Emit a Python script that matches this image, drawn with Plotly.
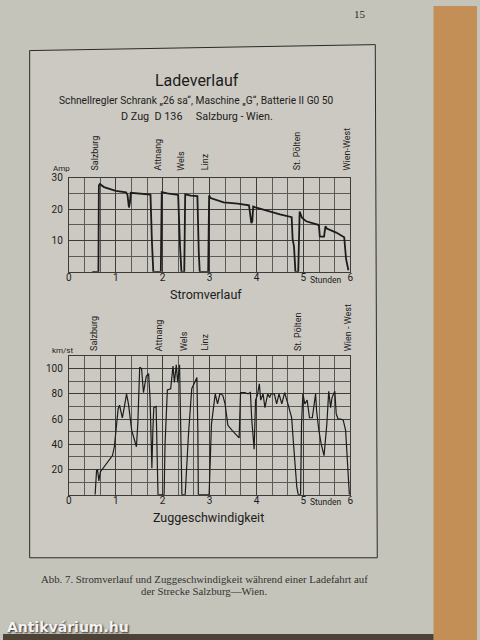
import plotly.graph_objects as go

# ---------------- data ----------------
strom_hours = [0.50, 0.63, 0.64, 0.66, 0.75, 1.00, 1.22, 1.25, 1.28, 1.30, 1.32, 1.50, 1.74, 1.77, 1.80,
               1.96, 1.98, 2.10, 2.33, 2.37, 2.40, 2.46, 2.48, 2.60, 2.74, 2.77, 2.79, 2.97, 2.99, 3.02,
               3.30, 3.60, 3.84, 3.86, 3.89, 3.91, 3.93, 3.96, 4.20, 4.50, 4.75, 4.77, 4.80, 4.83, 4.89,
               4.92, 4.97, 5.06, 5.33, 5.35, 5.44, 5.47, 5.50, 5.70, 5.87, 5.91, 5.96]
strom_amp = [0, 0, 27.5, 28.0, 27.0, 25.8, 25.3, 24.5, 20.5, 22.0, 25.2, 25.0, 24.6, 10, 0,
             0, 25.4, 25.0, 24.5, 8, 0, 0, 24.7, 24.3, 24.1, 6, 0, 0, 24.3, 23.5,
             22.1, 21.7, 21.2, 19.0, 15.5, 16.0, 20.8, 20.6, 19.5, 18.3, 17.4, 10.5, 8, 0, 0,
             19.2, 17.2, 16.1, 14.9, 11.2, 11.2, 14.5, 13.8, 12.5, 11.0, 4, 0.5]

speed_hours = [0.56, 0.59, 0.61, 0.64, 0.67, 0.75, 0.93, 0.97, 1.00, 1.05, 1.08, 1.14, 1.18, 1.23, 1.27,
               1.34, 1.44, 1.47, 1.51, 1.55, 1.59, 1.65, 1.70, 1.73, 1.76, 1.77, 1.79, 1.81, 1.86, 1.88,
               1.90, 2.03, 2.05, 2.10, 2.17, 2.22, 2.25, 2.29, 2.32, 2.36, 2.38, 2.41, 2.48, 2.55, 2.62,
               2.68, 2.73, 2.75, 2.76, 2.99, 3.01, 3.04, 3.12, 3.17, 3.22, 3.28, 3.33, 3.39, 3.48, 3.58,
               3.63, 3.66, 3.75, 3.82, 3.87, 3.90, 3.95, 3.98, 4.02, 4.06, 4.09, 4.14, 4.18, 4.24, 4.28,
               4.31, 4.38, 4.43, 4.48, 4.54, 4.60, 4.67, 4.75, 4.79, 4.86, 4.89, 4.94, 4.96, 4.99, 5.03,
               5.08, 5.13, 5.19, 5.26, 5.28, 5.33, 5.38, 5.44, 5.50, 5.54, 5.58, 5.61, 5.67, 5.70, 5.74,
               5.80, 5.85, 5.90, 5.94, 5.98]
speed_kmh = [0, 19, 20, 11, 18, 22, 31, 38, 50, 68, 71, 61, 69, 80, 72,
             51, 38, 56, 101, 100, 81, 94, 96, 77, 35, 21, 50, 69, 70, 30,
             0, 0, 40, 83, 84, 102, 89, 103, 89, 103, 50, 0, 0, 48, 84,
             89, 93, 50, 0, 0, 20, 56, 80, 72, 80, 79, 72, 55, 51, 47,
             45, 81, 81, 80, 81, 59, 36, 75, 79, 88, 75, 80, 69, 80, 77,
             80, 80, 72, 80, 72, 81, 72, 61, 40, 6, 0, 0, 56, 80, 72,
             75, 61, 61, 80, 67, 51, 40, 31, 56, 82, 69, 77, 82, 64, 60,
             60, 59, 51, 24, 0]

station_names = ["Salzburg", "Attnang", "Wels", "Linz", "St. Pölten", "Wien-West"]
station_hours_top = [0.55, 1.90, 2.40, 2.89, 4.87, 5.92]
station_names_bottom = ["Salzburg", "Attnang", "Wels", "Linz", "St. Pölten", "Wien - West"]
station_hours_bottom = [0.55, 1.91, 2.44, 2.91, 4.88, 5.95]

hour_ticks = [0, 1, 2, 3, 4, 5, 6]
hour_labels = ["0", "1", "2", "3", "4", "5", "6"]
amp_ticks = [10, 20, 30]
speed_ticks = [20, 40, 60, 80, 100]

# ---------------- helpers ----------------
W, H = 480, 640
def X(px):
    return px / W
def Y(py):
    return 1 - py / H

HAND = "Roboto, Liberation Sans, DejaVu Sans"
SERIF = "Liberation Serif, DejaVu Serif, serif"
INK = "#1c1c1c"
GRID = "#5a5a58"
PAGE = "#c5c4bb"
PLATE = "#cbc9c1"

fig = go.Figure()
fig.add_trace(go.Scatter(x=strom_hours, y=strom_amp, mode="lines",
                         line=dict(color=INK, width=1.8), xaxis="x", yaxis="y",
                         hoverinfo="skip", showlegend=False))
fig.add_trace(go.Scatter(x=speed_hours, y=speed_kmh, mode="lines",
                         line=dict(color=INK, width=1.2), xaxis="x2", yaxis="y2",
                         hoverinfo="skip", showlegend=False))

xdom = [X(66.7), X(351.7)]
common_x = dict(range=[0, 6], domain=xdom, tickvals=hour_ticks, ticktext=hour_labels,
                showgrid=True, gridcolor="#3c3c3a", gridwidth=1.3,
                minor=dict(dtick=1/3, showgrid=True, gridcolor=GRID, gridwidth=0.8, tick0=0),
                zeroline=False, showline=True, mirror=True, linecolor="#3c3c3a", linewidth=1,
                ticks="", ticklabelstandoff=-4,
                tickfont=dict(family=HAND, size=10, color=INK), fixedrange=True)

fig.update_layout(
    width=W, height=H,
    margin=dict(l=0, r=0, t=0, b=0),
    paper_bgcolor=PAGE, plot_bgcolor=PLATE,
    showlegend=False,
    xaxis=dict(common_x, anchor="y"),
    yaxis=dict(range=[0, 30], domain=[Y(268.3), Y(173.3)], tickvals=amp_ticks,
               showgrid=True, gridcolor="#3c3c3a", gridwidth=1.3,
               minor=dict(dtick=5, showgrid=True, gridcolor=GRID, gridwidth=0.8),
               zeroline=False, showline=True, mirror=True, linecolor="#3c3c3a", linewidth=1,
               ticks="", ticklabelstandoff=3, anchor="x",
               tickfont=dict(family=HAND, size=10, color=INK), fixedrange=True),
    xaxis2=dict(common_x, anchor="y2"),
    yaxis2=dict(range=[0, 110], domain=[Y(493.3), Y(353.3)], tickvals=speed_ticks,
                showgrid=True, gridcolor="#3c3c3a", gridwidth=1.1,
                minor=dict(dtick=10, showgrid=True, gridcolor=GRID, gridwidth=0.9),
                zeroline=False, showline=True, mirror=True, linecolor="#3c3c3a", linewidth=1,
                ticks="", ticklabelstandoff=3, anchor="x2",
                tickfont=dict(family=HAND, size=10, color=INK), fixedrange=True),
)

shapes = []
# right orange book edge
shapes.append(dict(type="rect", xref="paper", yref="paper", x0=X(436), x1=1, y0=0, y1=1,
                   fillcolor="#c48e57", line=dict(width=0), layer="below"))
# bottom dark strip
shapes.append(dict(type="rect", xref="paper", yref="paper", x0=0, x1=X(436), y0=0, y1=Y(634),
                   fillcolor="#4d4236", line=dict(width=0), layer="below"))
# plate
plate_path = "M {:.4f},{:.4f} L {:.4f},{:.4f} L {:.4f},{:.4f} L {:.4f},{:.4f} Z".format(
    X(27), Y(45), X(377), Y(39), X(379), Y(557), X(27), Y(557))
shapes.append(dict(type="path", xref="paper", yref="paper", path=plate_path,
                   fillcolor=PLATE, line=dict(color="#2a2a2a", width=1), layer="below"))
fig.update_layout(shapes=shapes)

ann = []
def text(s, px, py, size, family=HAND, xanchor="center", yanchor="middle", color=INK, **kw):
    ann.append(dict(text=s, x=X(px), y=Y(py), xref="paper", yref="paper", showarrow=False,
                    xanchor=xanchor, yanchor=yanchor,
                    font=dict(family=family, size=size, color=color), **kw))

text("15", 362, 8, 11, family=SERIF, color="#2a2a2a")
text("Ladeverlauf", 196, 75, 16)
text("Schnellregler Schrank „26 sa“, Maschine „G“, Batterie II G0 50", 196, 95, 10.2)
text("D Zug  D 136     Salzburg - Wien.", 196, 112, 10.8)
text("Amp", 49, 164, 8, xanchor="left")
text("Stromverlauf", 206, 291, 12.5)
text("Stunden", 309, 277, 8.5, xanchor="left")
text("km/st", 48, 348, 8, xanchor="left")
text("Zuggeschwindigkeit", 208, 516, 12.5)
text("Stunden", 309, 501, 8.5, xanchor="left")
text("Abb. 7. Stromverlauf und Zuggeschwindigkeit während einer Ladefahrt auf", 204, 578, 10.8,
     family=SERIF, color="#333330")
text("der Strecke Salzburg—Wien.", 204, 591, 10.8, family=SERIF, color="#333330")
ann.append(dict(text="<b>Antikvárium.hu</b>", x=X(2), y=Y(627), xref="paper", yref="paper",
                showarrow=False, xanchor="left", yanchor="middle",
                font=dict(family="DejaVu Sans", size=14, color="#f2f2f2",
                          shadow="1px 1px 2px #222")))

for name, h in zip(station_names, station_hours_top):
    ann.append(dict(text=name, x=h, y=Y(168), xref="x", yref="paper", showarrow=False,
                    textangle=-90, xanchor="center", yanchor="bottom",
                    font=dict(family=HAND, size=9, color=INK)))
for name, h in zip(station_names_bottom, station_hours_bottom):
    ann.append(dict(text=name, x=h, y=Y(350), xref="x2", yref="paper", showarrow=False,
                    textangle=-90, xanchor="center", yanchor="bottom",
                    font=dict(family=HAND, size=9, color=INK)))

fig.update_layout(annotations=ann)
fig.write_html("out.html", config={"displayModeBar": False},
               post_script="document.body.style.margin='0';"
                           "document.body.style.background='#c5c4bb';"
                           "document.body.style.overflow='hidden';")
